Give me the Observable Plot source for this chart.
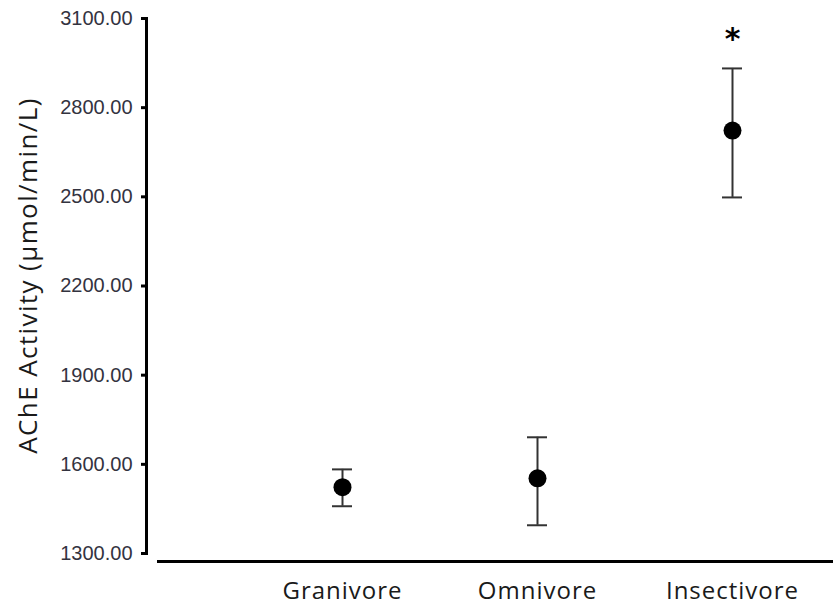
<!DOCTYPE html>
<html>
<head>
<meta charset="utf-8">
<script src="https://cdn.jsdelivr.net/npm/d3@7"></script>
<script src="https://cdn.jsdelivr.net/npm/@observablehq/plot@0.6"></script>
<style>
  html, body { margin: 0; padding: 0; background: #fff; }
  #chart svg { display: block; }
  .ylab text { letter-spacing: 1.4px; }
  .xaxis text { letter-spacing: 1px; }
</style>
</head>
<body>
<div id="chart"></div>
<script>
const diets = ["Granivore", "Omnivore", "Insectivore"];
const meanActivity = [1523, 1553, 2723];
const upperError = [1583, 1691, 2932];
const lowerError = [1459, 1395, 2498];
const significance = ["", "", "*"];
const yTicks = [1300, 1600, 1900, 2200, 2500, 2800, 3100];
const yLabel = "AChE Activity (\u03BCmol/min/L)";

const data = diets.map((d, i) => ({
  diet: d, mean: meanActivity[i], hi: upperError[i], lo: lowerError[i], sig: significance[i]
}));

const plot = Plot.plot({
  width: 833,
  height: 609,
  marginLeft: 146,
  marginRight: 0,
  marginTop: 18,
  marginBottom: 56,
  style: { fontFamily: "Liberation Sans, Arial, sans-serif", fontSize: "20px", background: "#fff" },
  x: { type: "point", domain: diets, padding: 0.753, align: 0.661 },
  y: { domain: [1300, 3100] },
  marks: [
    Plot.frame({ anchor: "left", stroke: "#000", strokeWidth: 3 }),
    Plot.ruleY([1300], { dy: 8, insetLeft: 11, stroke: "#000", strokeWidth: 3 }),
    Plot.axisY({
      ticks: yTicks, tickFormat: d3.format(".2f"), tickSize: 5, tickPadding: 9,
      strokeWidth: 3, stroke: "#000", fill: "#33333f", label: null,
      fontSize: 20
    }),
    Plot.axisX({
      tickSize: 0, tickPadding: 28, label: null, fill: "#1a1a1a",
      fontSize: 24, fontFamily: "Open Sans", className: "xaxis"
    }),
    Plot.text([yLabel], {
      frameAnchor: "left", textAnchor: "middle", rotate: -90, dx: -118, dy: -10.5,
      fontSize: 26, fontFamily: "Open Sans", fill: "#1a1a1a", className: "ylab"
    }),
    Plot.ruleX(data, { x: "diet", y1: "lo", y2: "hi", stroke: "#333", strokeWidth: 2 }),
    Plot.ruleY(data, { y: "hi", x1: "diet", x2: "diet", insetLeft: -10, insetRight: -10, stroke: "#333", strokeWidth: 2 }),
    Plot.ruleY(data, { y: "lo", x1: "diet", x2: "diet", insetLeft: -10, insetRight: -10, stroke: "#333", strokeWidth: 2 }),
    Plot.dot(data, { x: "diet", y: "mean", r: 9, fill: "#000", stroke: null }),
    Plot.text(data, {
      x: "diet", y: "hi", text: "sig", dy: -29,
      fontSize: 30, fontWeight: "bold", fontFamily: "DejaVu Sans", fill: "#000"
    })
  ]
});
document.getElementById("chart").appendChild(plot);
</script>
</body>
</html>
